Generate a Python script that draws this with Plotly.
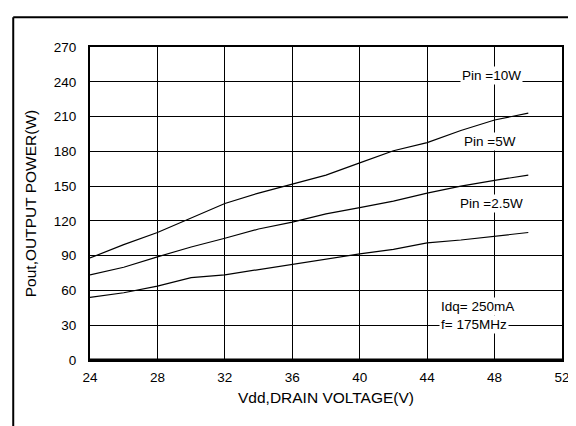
import plotly.graph_objects as go

vdd = [24, 26, 28, 30, 32, 34, 36, 38, 40, 42, 44, 46, 48, 50]
pout_10w = [88, 99.5, 110, 122.5, 135, 144, 151.5, 159.5, 170, 180.5, 187.5, 198, 207, 213]
pout_5w = [73.5, 80, 89, 97.5, 105, 113, 119, 126, 131.5, 137, 144, 150, 155, 159.5]
pout_2_5w = [54, 58, 63.8, 71, 73.5, 78, 82.5, 87.5, 91.5, 95.5, 101, 103.5, 106.5, 110]

x_ticks = [24, 28, 32, 36, 40, 44, 48, 52]
y_ticks = [0, 30, 60, 90, 120, 150, 180, 210, 240, 270]

W, H = 576, 426
L, R, T, B = 81.5, 576 - 553.7, 39, 426 - 352.3

fig = go.Figure()
for ys in (pout_10w, pout_5w, pout_2_5w):
    fig.add_trace(go.Scatter(x=vdd, y=ys, mode="lines",
                             line=dict(color="black", width=1.2),
                             showlegend=False, hoverinfo="skip"))

font = dict(family="Liberation Sans, Arial, sans-serif", color="black")

fig.update_layout(
    width=W, height=H,
    margin=dict(l=L, r=R, t=T, b=B, pad=0),
    paper_bgcolor="white", plot_bgcolor="white",
    font=dict(**font, size=13),
    showlegend=False,
)
fig.update_xaxes(range=[24, 52], tickvals=x_ticks, ticktext=[str(v) for v in x_ticks],
                 showgrid=True, gridcolor="black", gridwidth=1,
                 showline=True, linecolor="black", linewidth=2, mirror=True,
                 ticks="", ticklabelstandoff=4, zeroline=False,
                 tickfont=dict(size=13.5),
                 title=dict(text="Vdd,DRAIN VOLTAGE(V)", font=dict(size=15.5), standoff=8))
fig.update_yaxes(range=[0, 270], tickvals=y_ticks, ticktext=[str(v) for v in y_ticks],
                 showgrid=True, gridcolor="black", gridwidth=1,
                 showline=True, linecolor="black", linewidth=2, mirror=True,
                 ticks="", ticklabelstandoff=9, zeroline=False,
                 tickfont=dict(size=13.5),
                 title=dict(text="Pout,OUTPUT POWER(W)", font=dict(size=15.5), standoff=13))

# thicker bottom axis
fig.add_shape(type="line", xref="paper", yref="y", x0=0, x1=1, y0=0, y1=0,
              line=dict(color="black", width=3))

# outer frame (left & top edges)
pw = W - L - R
ph = H - T - B
def px2x(px):
    return (px - L) / pw
def py2y(py):
    return 1 - (py - T) / ph
fig.add_shape(type="line", xref="paper", yref="paper",
              x0=px2x(4.7), x1=px2x(4.7), y0=py2y(9.3), y1=py2y(430),
              line=dict(color="black", width=2))
fig.add_shape(type="line", xref="paper", yref="paper",
              x0=px2x(4.7), x1=px2x(580), y0=py2y(9.3), y1=py2y(9.3),
              line=dict(color="black", width=2))

ann_font = dict(**font, size=13.5)
for txt, xv, yv in [("Pin =10W", 47.8, 245.5), ("Pin =5W", 47.7, 188.5), ("Pin =2.5W", 47.8, 135)]:
    fig.add_annotation(x=xv, y=yv, text=txt, showarrow=False, font=ann_font,
                       bgcolor="white", borderpad=1)
fig.add_annotation(x=44.7, y=46.5, text="Idq= 250mA", showarrow=False, font=ann_font,
                   xanchor="left", bgcolor="white", borderpad=1)
fig.add_annotation(x=44.7, y=30.5, text="f= 175MHz", showarrow=False, font=ann_font,
                   xanchor="left", bgcolor="white", borderpad=1)

fig.write_html("out.html")
